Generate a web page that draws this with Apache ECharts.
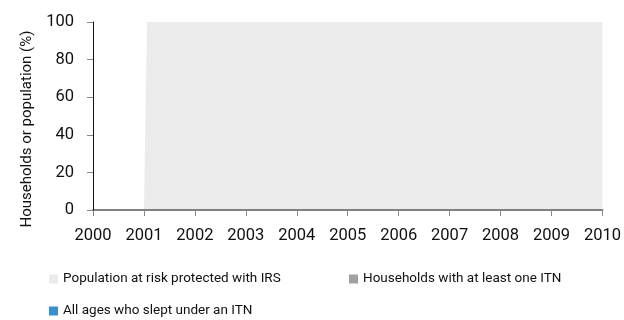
<!DOCTYPE html>
<html>
<head>
<meta charset="utf-8">
<script src="https://cdn.jsdelivr.net/npm/echarts@6/dist/echarts.min.js"></script>
<style>
  html, body { margin: 0; padding: 0; background: #fff; }
  #chart { width: 624px; height: 320px; }
</style>
</head>
<body>
<div id="chart"></div>
<script>
var years = [2000, 2001, 2002, 2003, 2004, 2005, 2006, 2007, 2008, 2009, 2010];
var seriesNames = ['Population at risk protected with IRS', 'Households with at least one ITN', 'All ages who slept under an ITN'];
// IRS coverage as [year, percent]
var irsPoints = [[2000, 0], [2001, 0], [2001.06, 100], [2010, 100]];
var itnHouseholds = [];
var itnAllAges = [];
var yTicks = [0, 20, 40, 60, 80, 100];

var font = 'Roboto, "DejaVu Sans", sans-serif';

function legendAt(name, left, top) {
    return {
        data: [name], left: left, top: top, icon: 'rect',
        itemWidth: 9, itemHeight: 9, padding: 0,
        textStyle: { fontFamily: font, fontSize: 13.5, color: '#111' }
    };
}

var option = {
    animation: false,
    textStyle: { fontFamily: font },
    grid: { left: 93, right: 19, top: 22, bottom: 110, containLabel: false },
    legend: [
        legendAt(seriesNames[0], 49, 272),
        legendAt(seriesNames[1], 349, 272),
        legendAt(seriesNames[2], 49, 304)
    ],
    graphic: [{
        type: 'text',
        x: 27, y: 129,
        rotation: Math.PI / 2,
        style: {
            text: 'Households or population (%)',
            fontFamily: font, fontSize: 15, fill: '#111',
            align: 'center', verticalAlign: 'middle'
        }
    }],
    xAxis: {
        type: 'value',
        min: years[0],
        max: years[years.length - 1],
        interval: 1,
        z: 5,
        axisLine: { show: true, lineStyle: { color: '#808080', width: 2 } },
        axisTick: { show: true, length: 6, lineStyle: { color: '#888' } },
        axisLabel: { fontFamily: font, fontSize: 16.5, color: '#111', margin: 17, formatter: function (v) { return String(v); } },
        splitLine: { show: false }
    },
    yAxis: {
        type: 'value',
        min: yTicks[0],
        max: yTicks[yTicks.length - 1],
        interval: 20,
        z: 6,
        axisLine: { show: true, lineStyle: { color: '#111', width: 1 } },
        axisTick: { show: true, length: 6, lineStyle: { color: '#888' } },
        axisLabel: { fontFamily: font, fontSize: 16.5, color: '#111', margin: 19 },
        splitLine: { show: false }
    },
    series: [
        {
            name: seriesNames[0],
            type: 'line',
            data: irsPoints,
            symbol: 'none',
            color: '#ebebeb',
            lineStyle: { width: 0 },
            areaStyle: { color: '#ebebeb', opacity: 1 },
            z: 1
        },
        { name: seriesNames[1], type: 'line', data: itnHouseholds, color: '#a0a0a0', symbol: 'none' },
        { name: seriesNames[2], type: 'line', data: itnAllAges, color: '#3a8fcf', symbol: 'none' }
    ]
};

var chartDom = document.getElementById('chart');
var myChart = echarts.init(chartDom);
option && myChart.setOption(option);
</script>
</body>
</html>
